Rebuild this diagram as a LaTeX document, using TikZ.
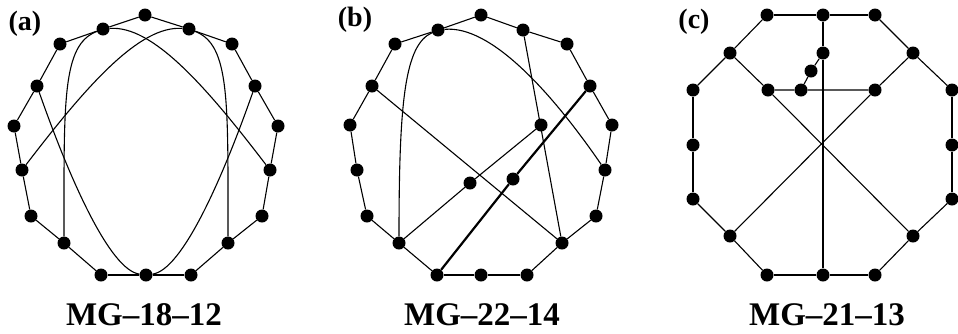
\documentclass[tikz,border=0pt]{standalone}
\usepackage{fontspec}
\setmainfont{Liberation Serif}
\usepackage{tikz}
\usetikzlibrary{positioning}

\tikzset{
  dot/.style={circle, fill, inner sep=0pt, minimum size=13pt},
  edge/.style={line width=1.1pt},
  heavy/.style={line width=2.2pt},
  tag/.style={font=\fontsize{28}{28}\selectfont\bfseries},
  title/.style={font=\fontsize{33}{33}\selectfont\bfseries}
}

\begin{document}
\begin{tikzpicture}[x=1pt, y=-1pt]
  \useasboundingbox (0,0) rectangle (958,333);

  % (a) MG-18-12
  \foreach \n/\x/\y in {1/145/15, 2/189/29, 3/232/44, 4/255/86, 5/278/126, 6/270/170,
      7/262/216, 8/228/243, 9/191/275, 10/146/275, 11/101/275, 12/64/243,
      13/31/216, 14/22/170, 15/14/126, 16/37/86, 17/60/44, 18/103/29}
    \node[dot] (a\n) at (\x,\y) {};
  \foreach \i [evaluate=\i as \j using {int(mod(\i,18)+1)}] in {1,...,18}
    \draw[edge] (a\i) -- (a\j);
  \draw[edge] (a18) .. controls (62,45) and (64,100) .. (a12);
  \draw[edge] (a2) .. controls (230,45) and (228,100) .. (a8);
  \draw[edge] (a18) .. controls (152,25) and (205,85) .. (a6);
  \draw[edge] (a2) .. controls (140,25) and (87,85) .. (a14);
  \draw[edge] (a16) .. controls (70,180) and (110,270) .. (a10);
  \draw[edge] (a4) .. controls (222,180) and (182,270) .. (a10);
  \node[tag] (taga) at (25,24) {(a)};
  \node[title] (namea) at (144,315) {MG–18–12};

  % (b) MG-22-14
  \foreach \n/\x/\y in {1/481/15, 2/523/30, 3/567/44, 4/590/86, 5/612/125, 6/605/170,
      7/596/216, 8/562/243, 9/527/275, 10/481/275, 11/437/275, 12/399/243,
      13/367/216, 14/357/170, 15/350/125, 16/372/86, 17/395/44, 18/438/30,
      19/541/125, 20/470/183, 21/513/179}
    \node[dot] (b\n) at (\x,\y) {};
  \foreach \i [evaluate=\i as \j using {int(mod(\i,18)+1)}] in {1,...,18}
    \draw[edge] (b\i) -- (b\j);
  \draw[edge] (b18) .. controls (405,45) and (399,100) .. (b12);
  \draw[edge] (b18) .. controls (490,25) and (550,90) .. (b6);
  \draw[edge] (b2) -- (b8);
  \draw[edge] (b16) -- (b8);
  \draw[edge] (b12) -- (b20) -- (b19);
  \draw[heavy] (b11) -- (b21) -- (b4);
  \node[tag] (tagb) at (355,20) {(b)};
  \node[title] (nameb) at (482,315) {MG–22–14};

  % (c) MG-21-13
  \foreach \n/\x/\y in {1/823/15, 2/875/15, 3/913/53, 4/952/90, 5/952/145, 6/952/199,
      7/913/236, 8/875/275, 9/823/275, 10/767/275, 11/730/236, 12/693/199,
      13/693/145, 14/693/90, 15/730/53, 16/767/15,
      17/768/90, 18/801/90, 19/875/90, 20/811/71, 21/823/53}
    \node[dot] (c\n) at (\x,\y) {};
  \foreach \i [evaluate=\i as \j using {int(mod(\i,16)+1)}] in {1,...,16}
    \draw[edge] (c\i) -- (c\j);
  \draw[edge] (c15) -- (c17) -- (c18) -- (c19) -- (c3);
  \draw[edge] (c18) -- (c20) -- (c21);
  \draw[edge] (c1) -- (c21) -- (c9);
  \draw[edge] (c17) -- (c7);
  \draw[edge] (c19) -- (c11);
  \node[tag] (tagc) at (694,22) {(c)};
  \node[title] (namec) at (827,315) {MG–21–13};
\end{tikzpicture}
\end{document}
